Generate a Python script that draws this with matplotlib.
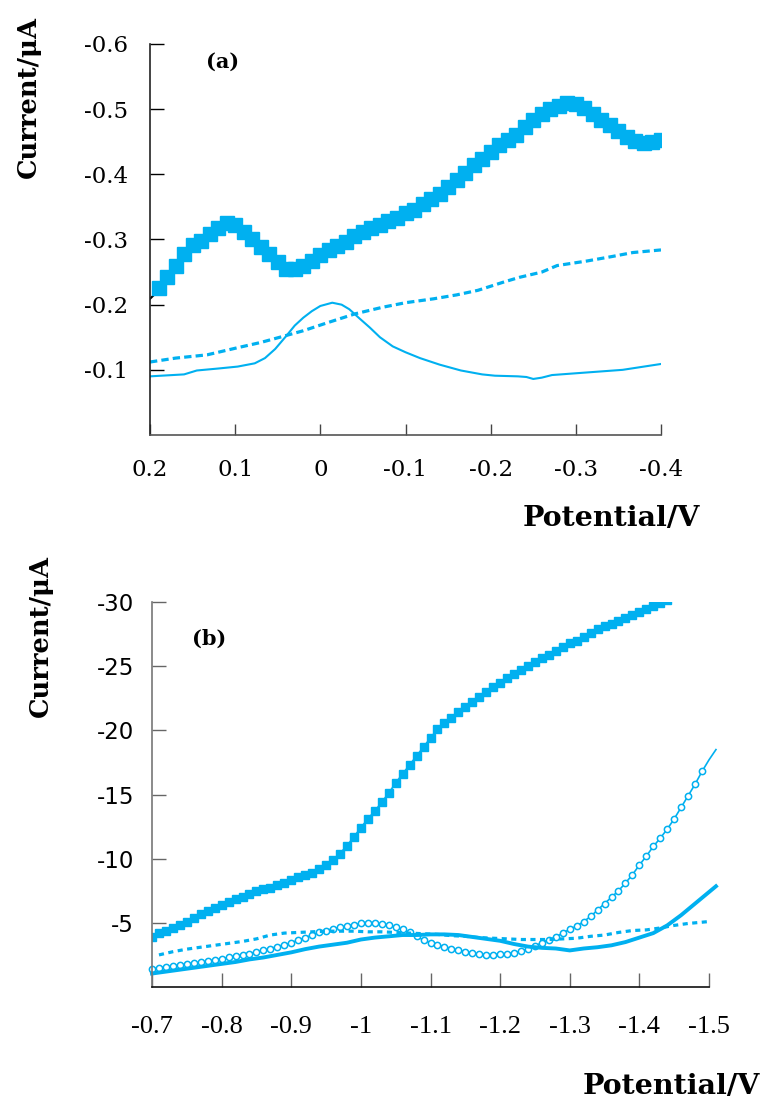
import matplotlib
matplotlib.use("Agg")
import matplotlib.pyplot as plt
import numpy as np

BLUE = "#00B0F0"

## PANEL (a) DATA
# square marker curve
a_sq_v = [0.19, 0.18, 0.17, 0.16, 0.15, 0.14, 0.13, 0.12, 0.11, 0.10,
          0.09, 0.08, 0.07, 0.06, 0.05, 0.04, 0.03, 0.02, 0.01, 0.00,
          -0.01, -0.02, -0.03, -0.04, -0.05, -0.06, -0.07, -0.08, -0.09, -0.10,
          -0.11, -0.12, -0.13, -0.14, -0.15, -0.16, -0.17, -0.18, -0.19, -0.20,
          -0.21, -0.22, -0.23, -0.24, -0.25, -0.26, -0.27, -0.28, -0.29, -0.30,
          -0.31, -0.32, -0.33, -0.34, -0.35, -0.36, -0.37, -0.38, -0.39, -0.40]
a_sq_i = [-0.225, -0.243, -0.260, -0.278, -0.291, -0.298, -0.308, -0.318, -0.325, -0.322,
          -0.312, -0.300, -0.288, -0.278, -0.265, -0.255, -0.255, -0.260, -0.267, -0.276,
          -0.284, -0.290, -0.296, -0.305, -0.312, -0.318, -0.322, -0.329, -0.333, -0.340,
          -0.346, -0.354, -0.362, -0.370, -0.381, -0.391, -0.402, -0.414, -0.423, -0.435,
          -0.445, -0.452, -0.460, -0.472, -0.484, -0.492, -0.500, -0.505, -0.509, -0.508,
          -0.502, -0.492, -0.483, -0.475, -0.466, -0.457, -0.451, -0.448, -0.449, -0.453]
a_lead_v = [0.2, 0.192]
a_lead_i = [-0.209, -0.219]
# dashed curve
a_dash_v = [0.2, 0.17, 0.133, 0.097, 0.07, 0.042, 0.02, -0.01, -0.041, -0.073, -0.10,
            -0.133, -0.16, -0.185, -0.216, -0.234, -0.26, -0.278, -0.313, -0.343,
            -0.367, -0.40]
a_dash_i = [-0.112, -0.118, -0.123, -0.134, -0.142, -0.152, -0.160, -0.173, -0.186,
            -0.196, -0.203, -0.209, -0.215, -0.222, -0.235, -0.242, -0.250, -0.260,
            -0.267, -0.274, -0.280, -0.284]
# thin solid curve
a_sol_v = [0.2, 0.16, 0.145, 0.12, 0.097, 0.077, 0.065, 0.053, 0.04, 0.03, 0.02,
           0.01, 0.0, -0.014, -0.025, -0.034, -0.045, -0.058, -0.07, -0.085, -0.10,
           -0.117, -0.14, -0.165, -0.19, -0.205, -0.232, -0.242, -0.250, -0.26,
           -0.272, -0.303, -0.355, -0.40]
a_sol_i = [-0.090, -0.093, -0.099, -0.102, -0.105, -0.110, -0.118, -0.132, -0.152,
           -0.168, -0.180, -0.190, -0.198, -0.203, -0.200, -0.193, -0.180, -0.165,
           -0.150, -0.136, -0.127, -0.118, -0.108, -0.099, -0.093, -0.091, -0.090,
           -0.089, -0.086, -0.088, -0.092, -0.095, -0.100, -0.109]

## PANEL (b) DATA
b_sq_v = [-0.70, -0.71, -0.72, -0.73, -0.74, -0.75, -0.76, -0.77, -0.78, -0.79,
          -0.80, -0.81, -0.82, -0.83, -0.84, -0.85, -0.86, -0.87, -0.88, -0.89,
          -0.90, -0.91, -0.92, -0.93, -0.94, -0.95, -0.96, -0.97, -0.98, -0.99,
          -1.00, -1.01, -1.02, -1.03, -1.04, -1.05, -1.06, -1.07, -1.08, -1.09,
          -1.10, -1.11, -1.12, -1.13, -1.14, -1.15, -1.16, -1.17, -1.18, -1.19,
          -1.20, -1.21, -1.22, -1.23, -1.24, -1.25, -1.26, -1.27, -1.28, -1.29,
          -1.30, -1.31, -1.32, -1.33, -1.34, -1.35, -1.36, -1.37, -1.38, -1.39,
          -1.40, -1.41, -1.42, -1.43, -1.44]
b_sq_i = [-3.9, -4.2, -4.4, -4.6, -4.85, -5.1, -5.35, -5.65, -5.9, -6.15,
          -6.4, -6.6, -6.85, -7.05, -7.25, -7.45, -7.6, -7.75, -7.95, -8.1,
          -8.35, -8.55, -8.7, -8.9, -9.2, -9.5, -9.9, -10.4, -11.0, -11.7,
          -12.4, -13.1, -13.7, -14.4, -15.1, -15.9, -16.6, -17.3, -18.0, -18.7,
          -19.4, -20.1, -20.6, -21.0, -21.4, -21.8, -22.2, -22.6, -23.0, -23.4,
          -23.7, -24.1, -24.4, -24.7, -25.0, -25.3, -25.6, -25.9, -26.2, -26.5,
          -26.8, -27.0, -27.3, -27.6, -27.9, -28.1, -28.3, -28.5, -28.75, -29.0,
          -29.2, -29.45, -29.7, -29.95, -30.15]
b_ci_v = [-0.70, -0.71, -0.72, -0.73, -0.74, -0.75, -0.76, -0.77, -0.78, -0.79,
          -0.80, -0.81, -0.82, -0.83, -0.84, -0.85, -0.86, -0.87, -0.88, -0.89,
          -0.90, -0.91, -0.92, -0.93, -0.94, -0.95, -0.96, -0.97, -0.98, -0.99,
          -1.00, -1.01, -1.02, -1.03, -1.04, -1.05, -1.06, -1.07, -1.08, -1.09,
          -1.10, -1.11, -1.12, -1.13, -1.14, -1.15, -1.16, -1.17, -1.18, -1.19,
          -1.20, -1.21, -1.22, -1.23, -1.24, -1.25, -1.26, -1.27, -1.28, -1.29,
          -1.30, -1.31, -1.32, -1.33, -1.34, -1.35, -1.36, -1.37, -1.38, -1.39,
          -1.40, -1.41, -1.42, -1.43, -1.44, -1.45, -1.46, -1.47, -1.48, -1.49,
          -1.50, -1.51]
b_ci_i = [-1.4, -1.5, -1.55, -1.65, -1.7, -1.8, -1.85, -1.95, -2.0, -2.1,
          -2.2, -2.3, -2.4, -2.5, -2.6, -2.75, -2.85, -3.0, -3.15, -3.3,
          -3.45, -3.65, -3.85, -4.05, -4.25, -4.4, -4.55, -4.65, -4.75, -4.85,
          -4.95, -5.0, -5.0, -4.9, -4.8, -4.65, -4.5, -4.25, -3.95, -3.65,
          -3.45, -3.3, -3.15, -3.0, -2.85, -2.75, -2.65, -2.55, -2.5, -2.5,
          -2.55, -2.6, -2.65, -2.8, -3.0, -3.2, -3.45, -3.7, -3.9, -4.2,
          -4.5, -4.75, -5.1, -5.5, -6.0, -6.5, -7.0, -7.5, -8.1, -8.75,
          -9.5, -10.2, -10.95, -11.6, -12.3, -13.1, -14.0, -14.9, -15.8, -16.8,
          -17.7, -18.5]
b_dash_v = [-0.71, -0.73, -0.75, -0.77, -0.79, -0.81, -0.83, -0.85, -0.87, -0.89,
            -0.91, -0.93, -0.95, -0.97, -0.99, -1.01, -1.03, -1.05, -1.07, -1.09,
            -1.11, -1.13, -1.15, -1.17, -1.19, -1.21, -1.23, -1.25, -1.27, -1.29,
            -1.31, -1.33, -1.35, -1.37, -1.39, -1.41, -1.43, -1.45, -1.47, -1.49, -1.50]
b_dash_i = [-2.5, -2.75, -2.95, -3.1, -3.25, -3.4, -3.55, -3.75, -4.05, -4.2,
            -4.25, -4.3, -4.35, -4.35, -4.35, -4.3, -4.3, -4.25, -4.2, -4.15,
            -4.1, -4.0, -3.95, -3.85, -3.8, -3.75, -3.7, -3.7, -3.7, -3.75,
            -3.8, -3.95, -4.05, -4.25, -4.4, -4.45, -4.6, -4.8, -4.95, -5.05, -5.1]
b_sol_v = [-0.70, -0.72, -0.74, -0.76, -0.78, -0.80, -0.82, -0.84, -0.86, -0.88,
           -0.90, -0.92, -0.94, -0.96, -0.98, -1.00, -1.02, -1.04, -1.06, -1.08,
           -1.10, -1.12, -1.14, -1.16, -1.18, -1.20, -1.22, -1.24, -1.26, -1.28,
           -1.30, -1.32, -1.34, -1.36, -1.38, -1.40, -1.42, -1.44, -1.46, -1.48,
           -1.50, -1.51]
b_sol_i = [-1.05, -1.2, -1.35, -1.5, -1.65, -1.8, -1.95, -2.15, -2.3, -2.5,
           -2.7, -2.95, -3.15, -3.3, -3.45, -3.7, -3.85, -3.95, -4.05, -4.05,
           -4.1, -4.1, -4.05, -3.9, -3.75, -3.6, -3.35, -3.15, -3.05, -3.0,
           -2.85, -3.0, -3.1, -3.25, -3.5, -3.85, -4.2, -4.8, -5.6, -6.5,
           -7.4, -7.85]

a_xticks = [0.2, 0.1, 0, -0.1, -0.2, -0.3, -0.4]
a_xlabels = ["0.2", "0.1", "0", "-0.1", "-0.2", "-0.3", "-0.4"]
a_yticks = [-0.1, -0.2, -0.3, -0.4, -0.5, -0.6]
a_ylabels = ["-0.1", "-0.2", "-0.3", "-0.4", "-0.5", "-0.6"]
b_xticks = [-0.7, -0.8, -0.9, -1.0, -1.1, -1.2, -1.3, -1.4, -1.5]
b_xlabels = ["-0.7", "-0.8", "-0.9", "-1", "-1.1", "-1.2", "-1.3", "-1.4", "-1.5"]
b_yticks = [-5, -10, -15, -20, -25, -30]
b_ylabels = ["-5", "-10", "-15", "-20", "-25", "-30"]

W, H = 763, 1102
fig = plt.figure(figsize=(W / 100, H / 100), dpi=100)

ax1 = fig.add_axes([150 / W, 1 - 435 / H, 511 / W, 391 / H])
ax2 = fig.add_axes([152 / W, 1 - 987 / H, 557 / W, 385 / H])

# panel (a)
ax1.plot(a_lead_v, a_lead_i, color="black", lw=1.5)
ax1.plot(a_sq_v, a_sq_i, color=BLUE, lw=2, marker="s", ms=10.5, mec=BLUE, mfc=BLUE)
ax1.plot(a_dash_v, a_dash_i, color=BLUE, lw=2.3, dashes=(2.3, 1.3))
ax1.plot(a_sol_v, a_sol_i, color=BLUE, lw=1.5)
ax1.set_xlim(0.2, -0.4)
ax1.set_ylim(0, -0.6)
ax1.set_xticks(a_xticks)
ax1.set_xticklabels(a_xlabels, family="DejaVu Serif", fontsize=16.5)
ax1.set_yticks(a_yticks)
ax1.set_yticklabels(a_ylabels, family="DejaVu Serif", fontsize=16.5)
ax1.tick_params(axis="y", direction="in", length=10, width=1, pad=16)
ax1.tick_params(axis="x", direction="in", length=8, width=1, pad=17, color="#444444")
ax1.text(0.142, 0.955, "(a)", transform=ax1.transAxes, ha="center", va="center",
         family="DejaVu Serif", fontweight="bold", fontsize=15)

# panel (b)
ax2.plot(b_sq_v, b_sq_i, color=BLUE, lw=1.3, marker="s", ms=5.5, mec=BLUE, mfc=BLUE)
ax2.plot(b_ci_v, b_ci_i, color=BLUE, lw=1.2, marker="o", ms=4.5, mew=1.1,
         mec=BLUE, mfc="white", markevery=slice(0, -2), clip_on=False)
ax2.plot(b_dash_v, b_dash_i, color=BLUE, lw=2.3, dashes=(1.6, 1.4))
ax2.plot(b_sol_v, b_sol_i, color=BLUE, lw=2.8, clip_on=False)
ax2.set_xlim(-0.7, -1.5)
ax2.set_ylim(0, -30)
ax2.set_xticks(b_xticks)
ax2.set_xticklabels(b_xlabels, family="Liberation Serif", fontsize=19)
ax2.set_yticks(b_yticks)
ax2.set_yticklabels(b_ylabels, family="DejaVu Sans", fontsize=16.5)
ax2.tick_params(axis="y", direction="in", length=10, width=1, pad=13, color="#666666")
ax2.tick_params(axis="x", direction="in", length=10, width=1, pad=21, color="#666666")
ax2.text(0.103, 0.905, "(b)", transform=ax2.transAxes, ha="center", va="center",
         family="DejaVu Serif", fontweight="bold", fontsize=15)

for ax in (ax1, ax2):
    ax.spines["top"].set_visible(False)
    ax.spines["right"].set_visible(False)
    ax.spines["left"].set_linewidth(1.2)
    ax.spines["bottom"].set_linewidth(1.2)
ax1.spines["left"].set_color("#222222")
ax1.spines["bottom"].set_color("#555555")
ax2.spines["left"].set_color("#777777")
ax2.spines["bottom"].set_color("#111111")

lab = dict(family="DejaVu Serif", fontweight="bold", fontsize=18.5)
fig.text(28 / W, 1 - 97 / H, "Current/μA", rotation=90, ha="center", va="center", **lab)
fig.text(40 / W, 1 - 636 / H, "Current/μA", rotation=90, ha="center", va="center", **lab)
fig.text(523 / W, 1 - 518 / H, "Potential/V", ha="left", va="center",
         family="DejaVu Serif", fontweight="bold", fontsize=20.5)
fig.text(760 / W, 1 - 1087 / H, "Potential/V", ha="right", va="center",
         family="DejaVu Serif", fontweight="bold", fontsize=20.5)

fig.savefig("out.png", dpi=100)
